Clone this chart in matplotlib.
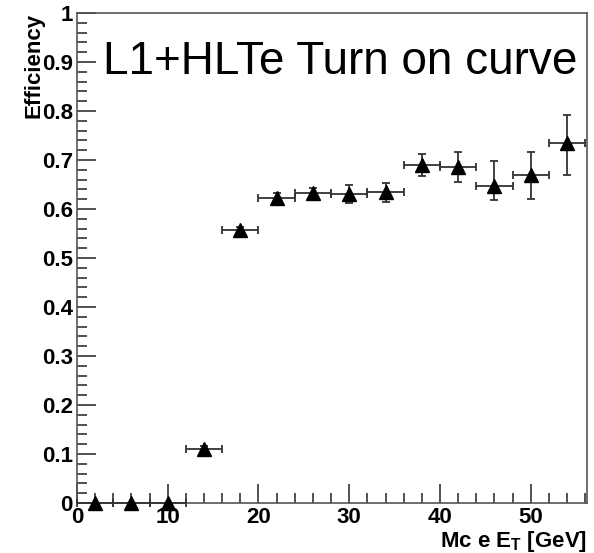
import matplotlib
matplotlib.use("Agg")
import matplotlib.pyplot as plt
from matplotlib.ticker import MultipleLocator

plt.rcParams['font.family'] = ['Liberation Sans', 'DejaVu Sans']
plt.rcParams['mathtext.fontset'] = 'custom'
plt.rcParams['mathtext.rm'] = 'Liberation Sans:bold'

# --- data ---
et_centers = [2, 6, 10, 14, 18, 22, 26, 30, 34, 38, 42, 46, 50, 54]
et_halfwidth = [2] * 14
efficiency = [0.0, 0.0, 0.0, 0.11, 0.557, 0.622, 0.632, 0.630, 0.635,
              0.690, 0.686, 0.647, 0.669, 0.734]
err_low = [0.0, 0.0, 0.0, 0.006, 0.006, 0.010, 0.011, 0.018, 0.021,
           0.023, 0.031, 0.029, 0.049, 0.065]
err_high = [0.0, 0.0, 0.0, 0.006, 0.006, 0.010, 0.011, 0.018, 0.018,
            0.022, 0.030, 0.051, 0.047, 0.058]
ytick_labels = ['0', '0.1', '0.2', '0.3', '0.4', '0.5', '0.6', '0.7',
                '0.8', '0.9', '1']

fig = plt.figure(figsize=(5.94, 5.53), dpi=100)
ax = fig.add_axes([0.1296, 0.0904, 0.8586, 0.8861])

ax.errorbar(et_centers, efficiency, xerr=et_halfwidth, yerr=[err_low, err_high],
            fmt='^', color='black', ecolor='#333333', elinewidth=1.3,
            capsize=3, capthick=1.3, markersize=10, clip_on=False, zorder=3)

ax.set_xlim(0, 56.2)
ax.set_ylim(0, 1)

ax.xaxis.set_major_locator(MultipleLocator(10))
ax.xaxis.set_minor_locator(MultipleLocator(2))
ax.yaxis.set_minor_locator(MultipleLocator(0.02))
ax.set_yticks([i / 10 for i in range(11)])
ax.set_yticklabels(ytick_labels)
ax.tick_params(which='both', direction='in', top=False, right=False,
               color='#333333', width=1.2)
ax.tick_params(which='major', length=14, labelsize=16, pad=3)
ax.tick_params(which='minor', length=7)
for lab in ax.get_xticklabels() + ax.get_yticklabels():
    lab.set_fontweight('bold')

for sp in ax.spines.values():
    sp.set_color('#555555')
    sp.set_linewidth(1.2)

ax.set_ylabel('Efficiency', fontsize=16, fontweight='bold')
ax.yaxis.set_label_coords(-0.064, 1.0)
ax.yaxis.label.set_horizontalalignment('right')

ax.set_xlabel(r'Mc e E$_\mathrm{T}$ [GeV]', fontsize=16, fontweight='bold')
ax.xaxis.set_label_coords(1.0, -0.0898)
ax.xaxis.label.set_horizontalalignment('right')
ax.xaxis.label.set_verticalalignment('baseline')

ax.text(0.051, 0.9, 'L1+HLTe Turn on curve', transform=ax.transAxes,
        fontsize=33, va='center', ha='left')

fig.savefig('out.png', dpi=100)
